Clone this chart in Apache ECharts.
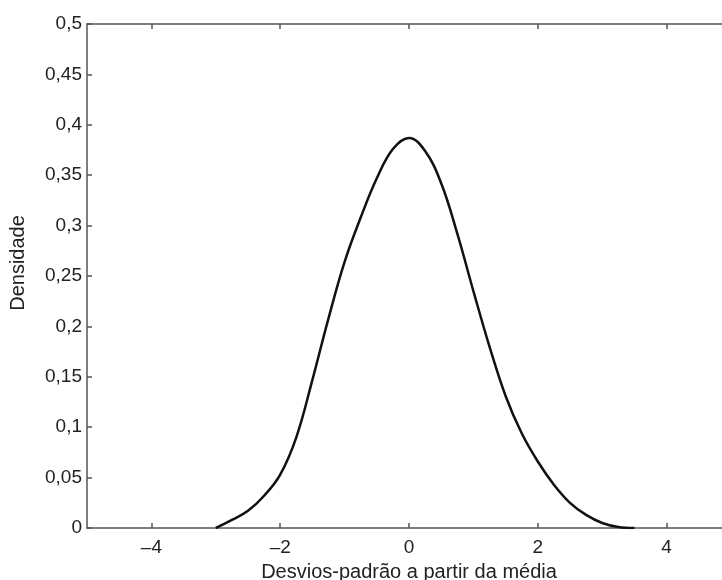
<!DOCTYPE html>
<html>
<head>
<meta charset="utf-8">
<script src="https://cdn.jsdelivr.net/npm/echarts@6/dist/echarts.min.js"></script>
<style>html,body{margin:0;padding:0;background:#fff}#c{width:722px;height:580px}</style>
</head>
<body>
<div id="c"></div>
<script>
const xValues = [-3.0, -2.75, -2.5, -2.25, -2.0, -1.75, -1.5, -1.25, -1.0, -0.75, -0.5, -0.25, 0, 0.25, 0.5, 0.75, 1.0, 1.25, 1.5, 1.75, 2.0, 2.25, 2.5, 2.75, 3.0, 3.25, 3.5];
const density = [0, 0.008, 0.017, 0.032, 0.053, 0.090, 0.147, 0.208, 0.264, 0.308, 0.347, 0.376, 0.387, 0.374, 0.342, 0.292, 0.235, 0.180, 0.131, 0.094, 0.066, 0.043, 0.025, 0.013, 0.005, 0.001, 0];
const xTicks = [-4, -2, 0, 2, 4];
const xTitle = 'Desvios-padrão a partir da média';
const yTitle = 'Densidade';

const chart = echarts.init(document.getElementById('c'), null, {renderer: 'canvas'});
const axisColor = '#555';
const font = 'Liberation Sans, Arial, sans-serif';
const xLabelFmt = v => (v < 0 ? '\u2013' + Math.abs(v) : String(v));
chart.setOption({
  animation: false,
  backgroundColor: '#fff',
  grid: {left: 87, right: -9, top: 24, bottom: 52, show: false, containLabel: false, outerBoundsMode: 'none'},
  xAxis: [{
    type: 'value', min: -5, max: 5, interval: 1,
    axisLine: {show: true, onZero: false, lineStyle: {color: axisColor, width: 1.5}},
    axisTick: {show: true, inside: true, length: 5, lineStyle: {color: axisColor, width: 1.5},
      customValues: xTicks},
    axisLabel: {show: true, color: '#222', fontSize: 19, fontFamily: font, margin: 10,
      customValues: xTicks, formatter: xLabelFmt},
    splitLine: {show: false},
    name: xTitle, nameLocation: 'middle', nameGap: 34, nameMoveOverlap: false,
    nameTextStyle: {color: '#222', fontSize: 20, fontFamily: font}
  }, {
    type: 'value', min: -5, max: 5, interval: 1, position: 'top',
    axisLine: {show: true, onZero: false, lineStyle: {color: axisColor, width: 1.5}},
    axisTick: {show: true, inside: true, length: 5, lineStyle: {color: axisColor, width: 1.5},
      customValues: xTicks},
    axisLabel: {show: false},
    splitLine: {show: false}
  }],
  yAxis: {
    type: 'value', min: 0, max: 0.5, interval: 0.05,
    axisLine: {show: true, onZero: false, lineStyle: {color: axisColor, width: 1.5}},
    axisTick: {show: true, inside: true, length: 5, lineStyle: {color: axisColor, width: 1.5}},
    axisLabel: {color: '#222', fontSize: 19, fontFamily: font, margin: 5,
      formatter: v => String(+v.toFixed(2)).replace('.', ',')},
    splitLine: {show: false},
    name: yTitle, nameLocation: 'middle', nameGap: 59, nameRotate: 90,
    nameTextStyle: {color: '#222', fontSize: 20, fontFamily: font, padding: [0, 0, 0, 26]}
  },
  series: [{
    type: 'line',
    data: xValues.map((x, i) => [x, density[i]]),
    smooth: 0.4,
    showSymbol: false,
    lineStyle: {color: '#111', width: 2.5},
    clip: true
  }]
});
</script>
</body>
</html>
